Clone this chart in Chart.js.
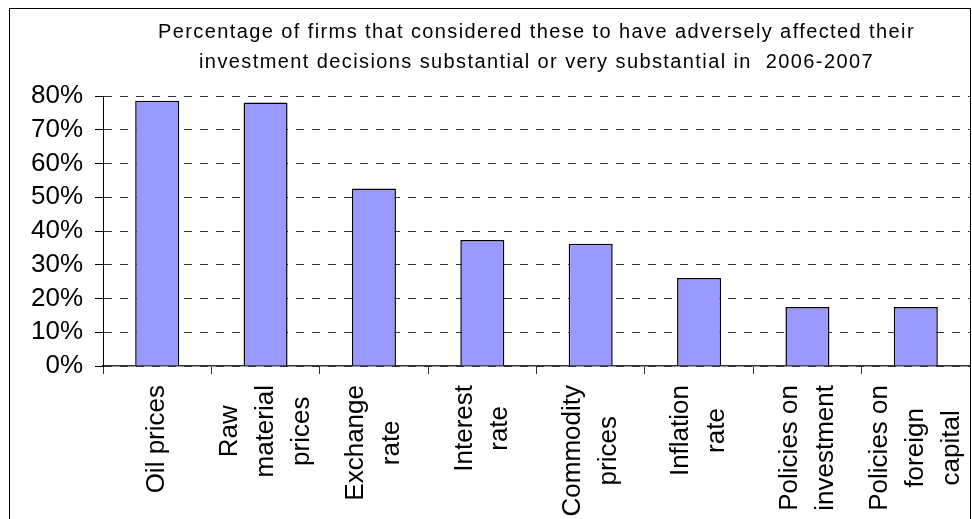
<!DOCTYPE html>
<html>
<head>
<meta charset="utf-8">
<script src="https://cdn.jsdelivr.net/npm/chart.js@4.4.0/dist/chart.umd.min.js"></script>
<style>
  html, body { margin: 0; padding: 0; background: #fff; }
  #wrap { position: relative; width: 972px; height: 519px; overflow: hidden; }
  #frame { position: absolute; left: 9px; top: 8px; width: 960px; height: 600px; border: 1px solid #000; pointer-events: none; }
  canvas { position: absolute; left: 0; top: 0; }
</style>
</head>
<body>
<div id="wrap">
  <canvas id="chart" width="972" height="519"></canvas>
  <div id="frame"></div>
</div>
<script>
const titleLines = [
  'Percentage of firms that considered these to have adversely affected their',
  'investment decisions substantial or very substantial in  2006-2007'
];
const categories = [
  ['Oil prices'],
  ['Raw', 'material', 'prices'],
  ['Exchange', 'rate'],
  ['Interest', 'rate'],
  ['Commodity', 'prices'],
  ['Inflation', 'rate'],
  ['Policies on', 'investment'],
  ['Policies on', 'foreign', 'capital']
];
const shares = [78.6, 78.1, 52.6, 37.3, 36.2, 26.1, 17.5, 17.5];
const yTicks = [0, 10, 20, 30, 40, 50, 60, 70, 80];

const FONT = '"Liberation Sans", Arial, sans-serif';
Chart.defaults.font.family = FONT;
Chart.defaults.color = '#000';

// title drawn over the plot centre, with the wide letter spacing of the original
const titlePlugin = {
  id: 'titlePlugin',
  afterDraw(chart) {
    const ctx = chart.ctx;
    const cx = (chart.chartArea.left + chart.chartArea.right) / 2;
    ctx.save();
    ctx.font = '20px ' + FONT;
    ctx.fillStyle = '#000';
    ctx.textAlign = 'center';
    ctx.textBaseline = 'alphabetic';
    ctx.letterSpacing = '1.4px';
    ctx.fillText(titleLines[0], cx, 38);
    ctx.fillText(titleLines[1], cx, 68);
    ctx.restore();
  }
};

// centre each multi-line x label on its category, lines centred on each other
const centerLabels = {
  id: 'centerLabels',
  beforeDraw(chart) {
    const ctx = chart.ctx;
    chart.scales.x.getLabelItems().forEach(item => {
      if (item.done) return;
      const lines = [].concat(item.label);
      const lh = item.font.lineHeight;
      ctx.save();
      ctx.font = item.font.string;
      const maxW = Math.max(...lines.map(l => ctx.measureText(l).width));
      ctx.restore();
      item.textOffset -= (lines.length - 1) * lh / 2;
      item.options.textAlign = 'center';
      item.options.translation[1] += maxW / 2;
      item.done = true;
    });
  }
};

new Chart(document.getElementById('chart'), {
  type: 'bar',
  data: {
    labels: categories,
    datasets: [{
      data: shares,
      backgroundColor: '#9999FF',
      borderColor: '#000',
      borderWidth: 1.5,
      categoryPercentage: 1,
      barPercentage: 0.406
    }]
  },
  options: {
    responsive: false,
    animation: false,
    devicePixelRatio: 1,
    layout: { padding: { left: 0, right: 2, top: 96, bottom: 0 } },
    plugins: {
      legend: { display: false },
      title: { display: false },
      tooltip: { enabled: false }
    },
    scales: {
      x: {
        offset: true,
        afterFit(scale) {
          scale.height = 153;
          scale.paddingLeft = 0;
          scale.paddingRight = 0;
        },
        grid: {
          offset: true,
          drawOnChartArea: false,
          drawTicks: true,
          tickLength: 8,
          tickColor: '#333',
          tickWidth: 1
        },
        border: { color: '#333', width: 1.5 },
        ticks: {
          autoSkip: false,
          minRotation: 90,
          maxRotation: 90,
          padding: 11,
          color: '#000',
          font: { size: 26, lineHeight: 1.38 }
        }
      },
      y: {
        min: yTicks[0],
        max: yTicks[yTicks.length - 1],
        afterFit(scale) {
          scale.width = 103;
          scale.paddingTop = 0;
          scale.paddingBottom = 0;
        },
        grid: {
          color: '#333',
          lineWidth: 1,
          drawTicks: true,
          tickLength: 8,
          tickColor: '#000',
          tickBorderDash: []
        },
        border: { color: '#000', width: 1, dash: [8, 8] },
        ticks: {
          autoSkip: false,
          stepSize: yTicks[1] - yTicks[0],
          padding: 12,
          color: '#000',
          font: { size: 26 },
          callback: v => v + '%'
        }
      }
    }
  },
  plugins: [centerLabels, titlePlugin]
});
</script>
</body>
</html>
